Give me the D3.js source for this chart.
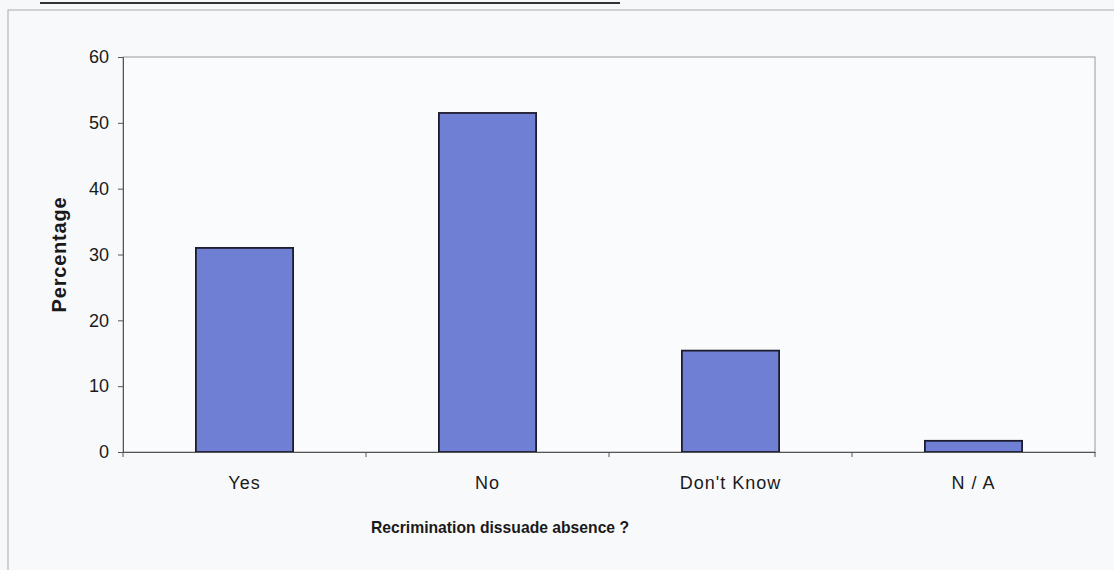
<!DOCTYPE html>
<meta charset='utf-8'>
<style>
body { margin: 0; background: #f7f8fa; }
text { font-family: Arial, 'Liberation Sans', sans-serif; fill: #1a1a1a; }
.axis path, .axis line { stroke: #555; }
</style>
<svg width='1114' height='570'></svg>
<script src='https://cdn.jsdelivr.net/npm/d3@7'></script>
<script>
var categories = ['Yes', 'No', "Don't Know", 'N / A'];
var values = [31, 51.5, 15.4, 1.7];
var yTicks = [0, 10, 20, 30, 40, 50, 60];

var svg = d3.select('svg');
var margin = {left: 123, top: 57, right: 1095, bottom: 452};

// page decoration: underline of heading and chart frame
svg.append('line').attr('x1', 40).attr('x2', 620).attr('y1', 3).attr('y2', 3)
  .attr('stroke', '#333').attr('stroke-width', 2);
svg.append('rect').attr('x', 8).attr('y', 10).attr('width', 1120).attr('height', 580)
  .attr('fill', '#f8f9fb').attr('stroke', '#aaa');

var x = d3.scaleBand().domain(categories)
  .range([margin.left, margin.right]).paddingInner(0.6).paddingOuter(0.3);
var y = d3.scaleLinear().domain([0, 60]).range([margin.bottom, margin.top]);

// plot frame
svg.append('rect')
  .attr('x', margin.left).attr('y', margin.top)
  .attr('width', margin.right - margin.left).attr('height', margin.bottom - margin.top)
  .attr('fill', '#fafbfc').attr('stroke', '#9a9a9a');

svg.append('g').selectAll('rect').data(values).enter().append('rect')
  .attr('x', (d, i) => x(categories[i]))
  .attr('y', d => y(d))
  .attr('width', x.bandwidth())
  .attr('height', d => y(0) - y(d))
  .attr('fill', '#6f7fd3')
  .attr('stroke', '#1c1c2e')
  .attr('stroke-width', 1.8);

// y axis
var yAxis = svg.append('g').attr('class', 'axis')
  .attr('transform', 'translate(' + margin.left + ',0)')
  .call(d3.axisLeft(y).tickValues(yTicks).tickSizeOuter(0).tickSize(5).tickPadding(9));
yAxis.selectAll('text').style('font-size', '18px').style('font-family', 'Arial, Liberation Sans, sans-serif').attr('fill', '#1a1a1a');

// x axis with ticks between categories
var xAxis = svg.append('g').attr('class', 'axis')
  .attr('transform', 'translate(0,' + margin.bottom + ')')
  .call(d3.axisBottom(x).tickSize(0).tickSizeOuter(0).tickPadding(24));
xAxis.selectAll('text').style('font-size', '18px').style('letter-spacing', '1px')
  .style('font-family', 'Arial, Liberation Sans, sans-serif').attr('fill', '#1a1a1a');
var bounds = categories.map(c => x(c) - x.step() * x.paddingInner() / 2).concat([margin.right]);
xAxis.selectAll('.sep').data(bounds).enter().append('line')
  .attr('x1', d => d).attr('x2', d => d).attr('y1', 0).attr('y2', 5)
  .attr('stroke', '#555');

svg.append('text')
  .attr('transform', 'translate(66,' + ((margin.top + margin.bottom) / 2) + ') rotate(-90)')
  .attr('text-anchor', 'middle')
  .style('font-size', '20px').style('font-weight', 'bold').style('letter-spacing', '0.8px')
  .text('Percentage');

svg.append('text')
  .attr('x', 500).attr('y', 533)
  .attr('text-anchor', 'middle')
  .style('font-size', '15.7px').style('font-weight', 'bold')
  .text('Recrimination dissuade absence ?');
</script>
